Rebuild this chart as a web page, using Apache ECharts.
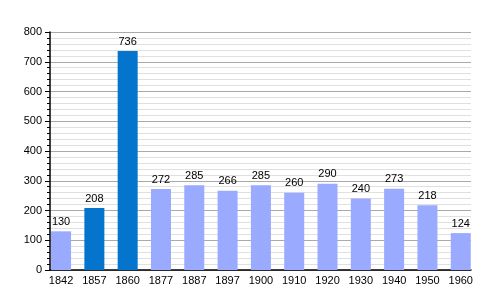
<!DOCTYPE html>
<html><head><meta charset="utf-8">
<script src="https://cdn.jsdelivr.net/npm/echarts@6/dist/echarts.min.js"></script>
<style>html,body{margin:0;padding:0;background:#fff}#c{width:500px;height:300px}</style>
</head><body><div id="c"></div>
<script>
var years = ['1842','1857','1860','1877','1887','1897','1900','1910','1920','1930','1940','1950','1960'];
var population = [130,208,736,272,285,266,285,260,290,240,273,218,124];
var highlighted = ['1857','1860'];
var yTicks = [0,100,200,300,400,500,600,700,800];

var font = 'Liberation Sans, Arial';
var chart = echarts.init(document.getElementById('c'), null, {renderer:'canvas'});
chart.setOption({
  animation:false,
  grid:[
    {left:50,right:29,top:32,bottom:30},
    {left:44.4,right:22.6,top:32,bottom:30}
  ],
  xAxis:[
    {gridIndex:0,type:'value',min:0,max:1,
     axisLine:{show:true,onZero:false,lineStyle:{color:'#000',width:1.5}},
     axisTick:{show:false},axisLabel:{show:false},splitLine:{show:false}},
    {gridIndex:1,type:'category',data:years,
     axisLine:{show:false},axisTick:{show:false},
     axisLabel:{color:'#000',fontSize:11,fontFamily:font,margin:5,interval:0}}
  ],
  yAxis:[
    {gridIndex:0,type:'value', min:yTicks[0], max:yTicks[yTicks.length-1], interval:100,
     axisLine:{show:true,lineStyle:{color:'#000',width:1.5}},
     axisTick:{show:true,length:5,lineStyle:{color:'#000'}},
     minorTick:{show:true,splitNumber:5,length:3,lineStyle:{color:'#000'}},
     splitLine:{lineStyle:{color:'#aaa',width:1}},
     minorSplitLine:{show:true,lineStyle:{color:'#e0e0e0',width:1}},
     axisLabel:{color:'#000',fontSize:11,fontFamily:font,margin:8}},
    {gridIndex:1,type:'value', min:yTicks[0], max:yTicks[yTicks.length-1],
     show:false}
  ],
  series:[{
    type:'bar', xAxisIndex:1, yAxisIndex:1,
    barWidth:20,
    data:population.map(function(v,i){
      return {value:v,itemStyle:{color: highlighted.indexOf(years[i])>=0 ? '#0474cc' : '#99aaff'}};
    }),
    label:{show:true,position:'top',color:'#000',fontSize:11,fontFamily:font,distance:4}
  }]
});
</script></body></html>
